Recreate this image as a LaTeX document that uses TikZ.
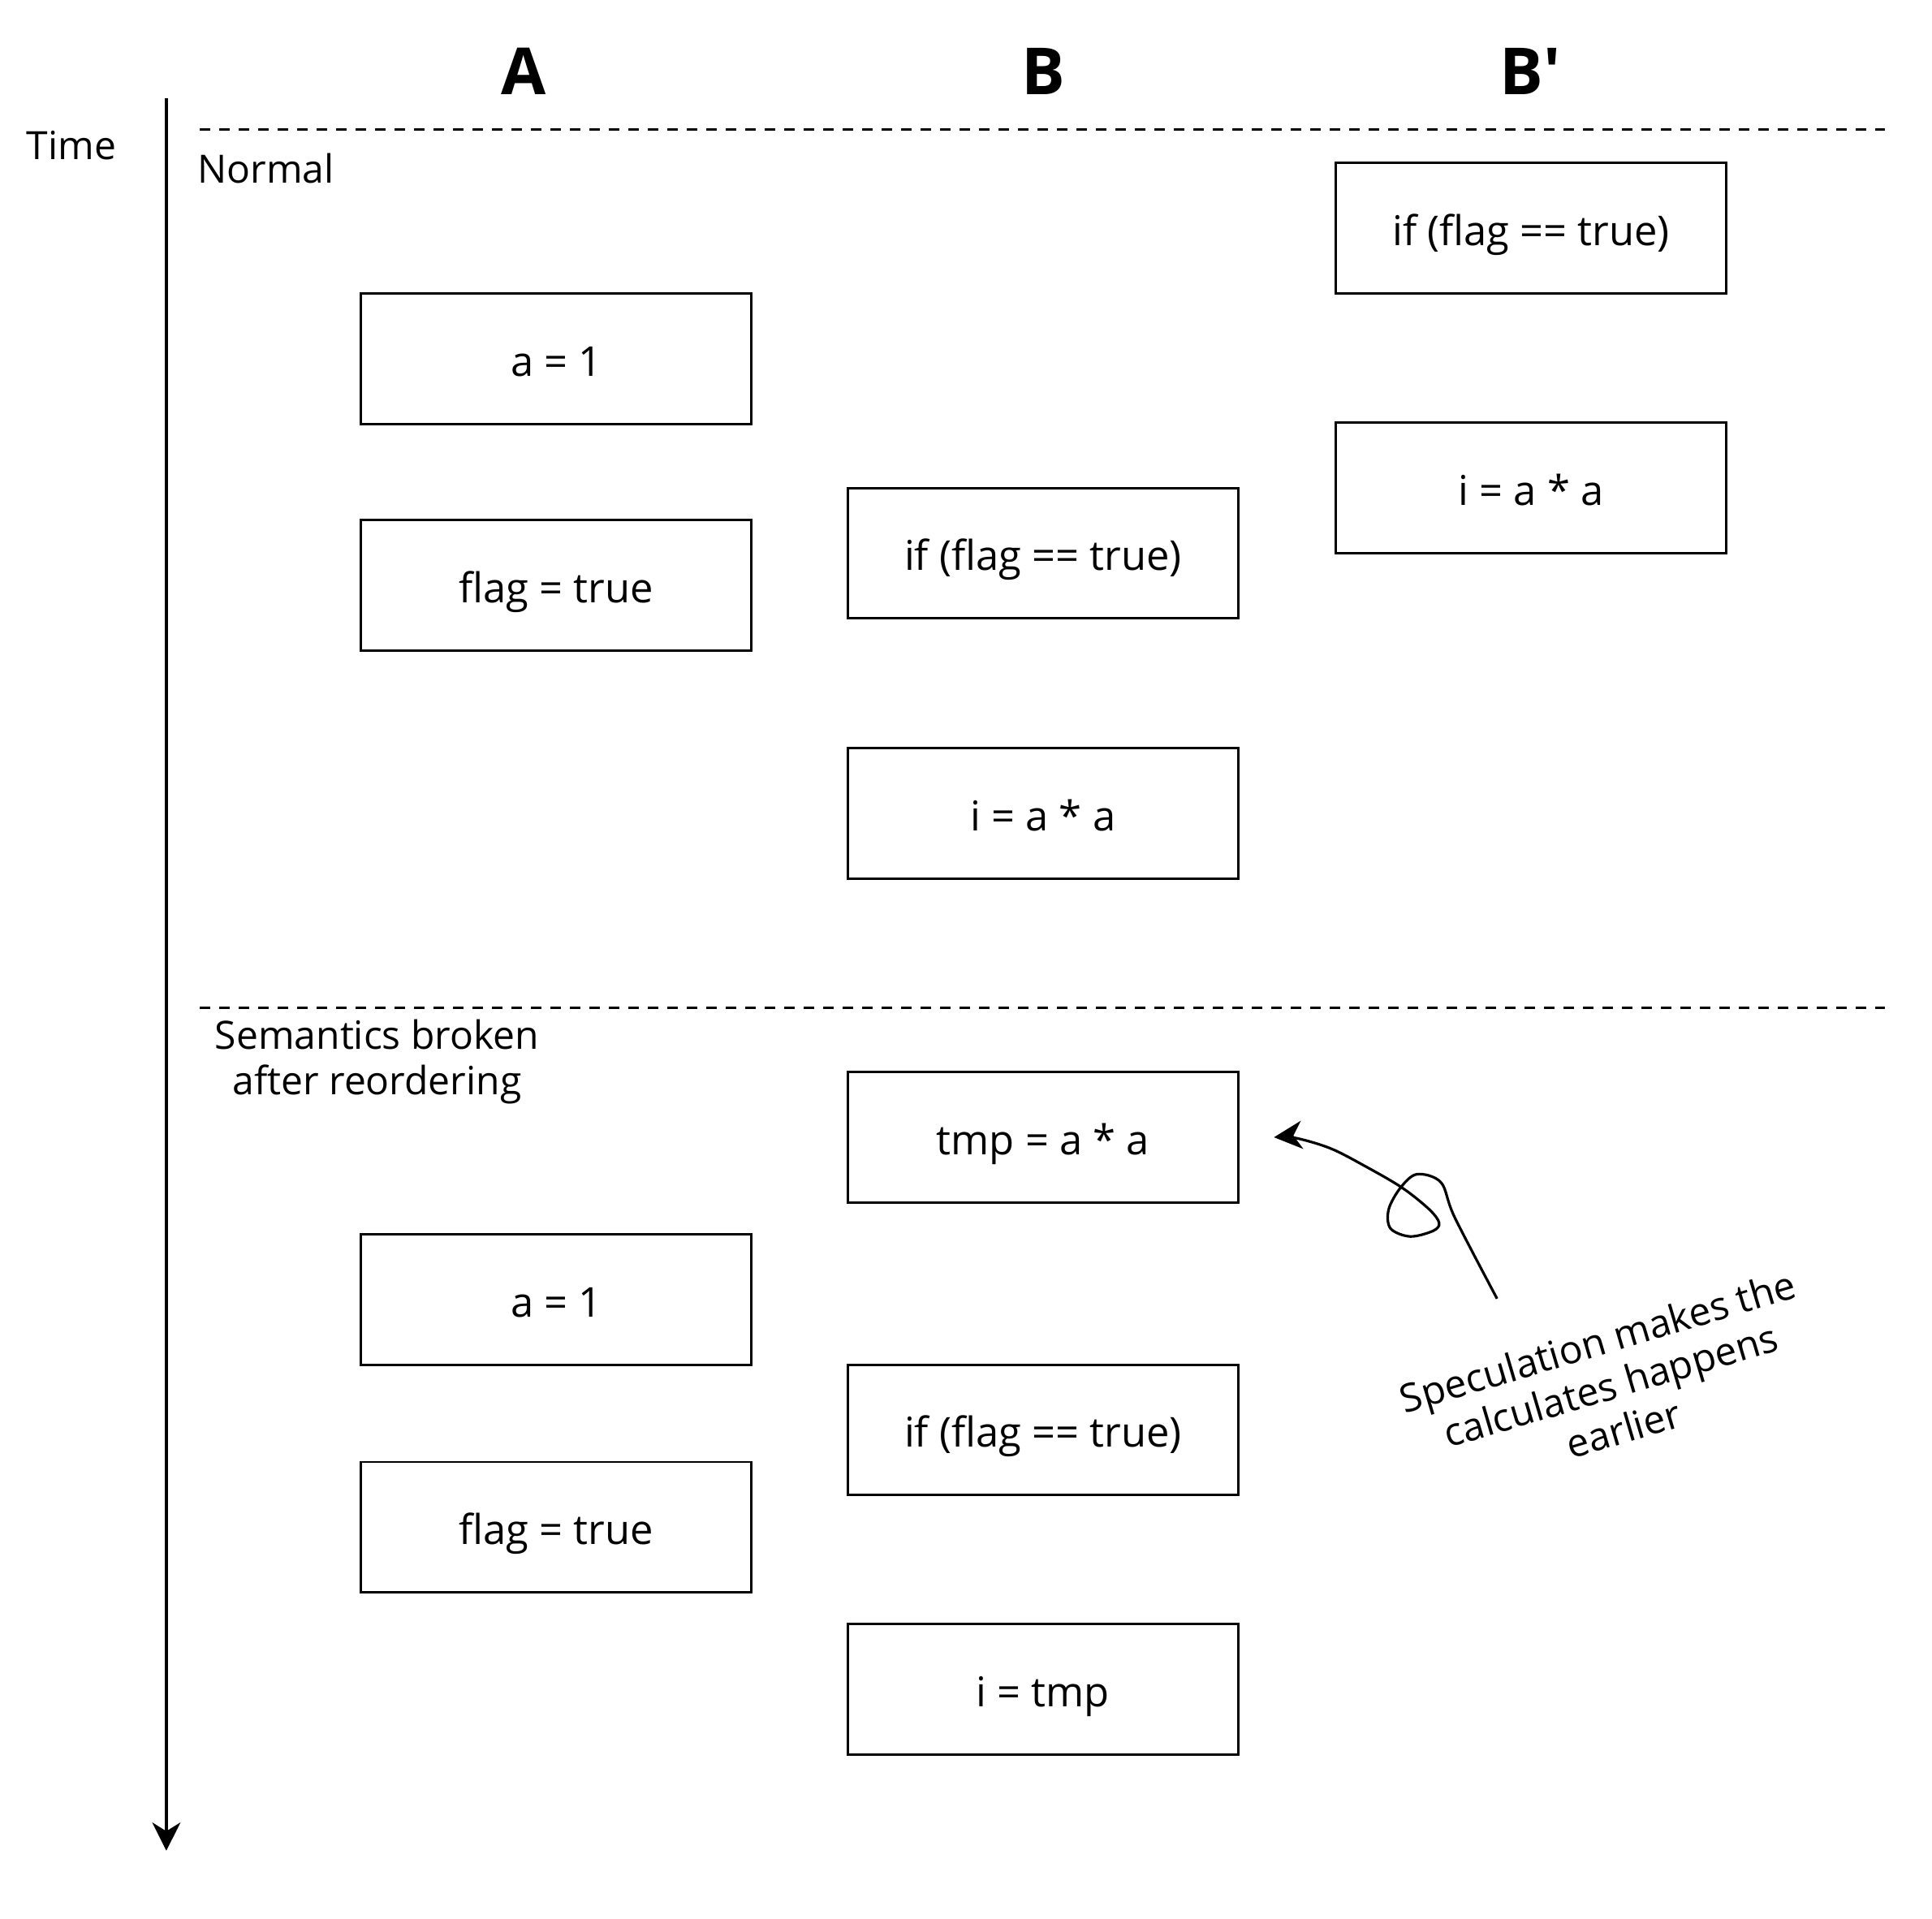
\documentclass[tikz,border=0pt]{standalone}
\usepackage{fontspec}
\setmainfont{Open Sans}
\usetikzlibrary{arrows.meta}
\begin{document}
\begin{tikzpicture}[x=0.02cm,y=-0.02cm,
  stmt/.style={draw, line width=1.1pt, minimum width=6.34cm, minimum height=2.12cm,
    inner sep=0pt, text height=20pt, text depth=4pt,
    font=\fontsize{19}{21}\selectfont},
  lbl/.style={font=\fontsize{18}{21}\selectfont, inner sep=0pt},
  head/.style={font=\fontsize{30}{36}\selectfont\bfseries, inner sep=0pt},
  phase/.style={line width=1.2pt, dash pattern=on 5pt off 4pt},
  bigtip/.style={-{Stealth[length=13pt,width=13pt,inset=4pt]}}
]
\useasboundingbox (0,0) rectangle (1568,1557);

% column headings
\node[head] (hA) at (425,58) {A};
\node[head] (hB) at (847,58) {B};
\node[head] (hBp) at (1242,58) {B\textquotesingle};

% time axis
\node[lbl] (time) at (58,118) {Time};
\coordinate (t0) at (135,80);
\coordinate (t1) at (135,1502);
\draw[line width=1.5pt, bigtip] (t0) -- (t1);

% phase separators
\coordinate (s1a) at (162,105);
\coordinate (s1b) at (1530,105);
\coordinate (s2a) at (162,818);
\coordinate (s2b) at (1530,818);
\draw[phase] (s1a) -- (s1b);
\draw[phase] (s2a) -- (s2b);

\node[lbl, anchor=west] (normal) at (160,137) {Normal};
\node[lbl, align=center] (broken) at (306,862) {Semantics broken\\after reordering};

% normal order
\node[stmt] (na1) at (451.5,291) {a = 1};
\node[stmt] (na2) at (451.5,475) {flag = true};
\node[stmt] (nb1) at (846.5,449) {if (flag == true)};
\node[stmt] (nb2) at (846.5,660) {i = a * a};
\node[stmt] (nc1) at (1242.5,185) {if (flag == true)};
\node[stmt] (nc2) at (1242.5,396) {i = a * a};

% reordered
\node[stmt] (ra1) at (451.5,1055) {a = 1};
\node[stmt] (ra2) at (451.5,1239.5) {flag = true};
\node[stmt] (rb0) at (846.5,923) {tmp = a * a};
\node[stmt] (rb1) at (846.5,1160.5) {if (flag == true)};
\node[stmt] (rb2) at (846.5,1371) {i = tmp};

% annotation with looped arrow
\node[align=center, rotate=16.5, inner sep=0pt, font=\fontsize{18}{21}\selectfont]
  (note) at (1307,1124) {Speculation makes the\\calculates happens\\earlier};
\coordinate (tail) at (1215,1054);
\coordinate (head) at ([xshift=0.56cm]rb0.east);
\draw[line width=1.2pt, bigtip] plot[smooth, tension=0.55] coordinates {
  (tail) (1180.6,988) (1169.5,959.7) (1150,953) (1136.6,964) (1127,981.6)
  (1128.5,997) (1144.4,1003.5) (1163,999) (1168,992.6) (1160,981.6)
  (1138,964) (1108,946.5) (1079.7,932) (1051,923.5) (head)};
\end{tikzpicture}
\end{document}
